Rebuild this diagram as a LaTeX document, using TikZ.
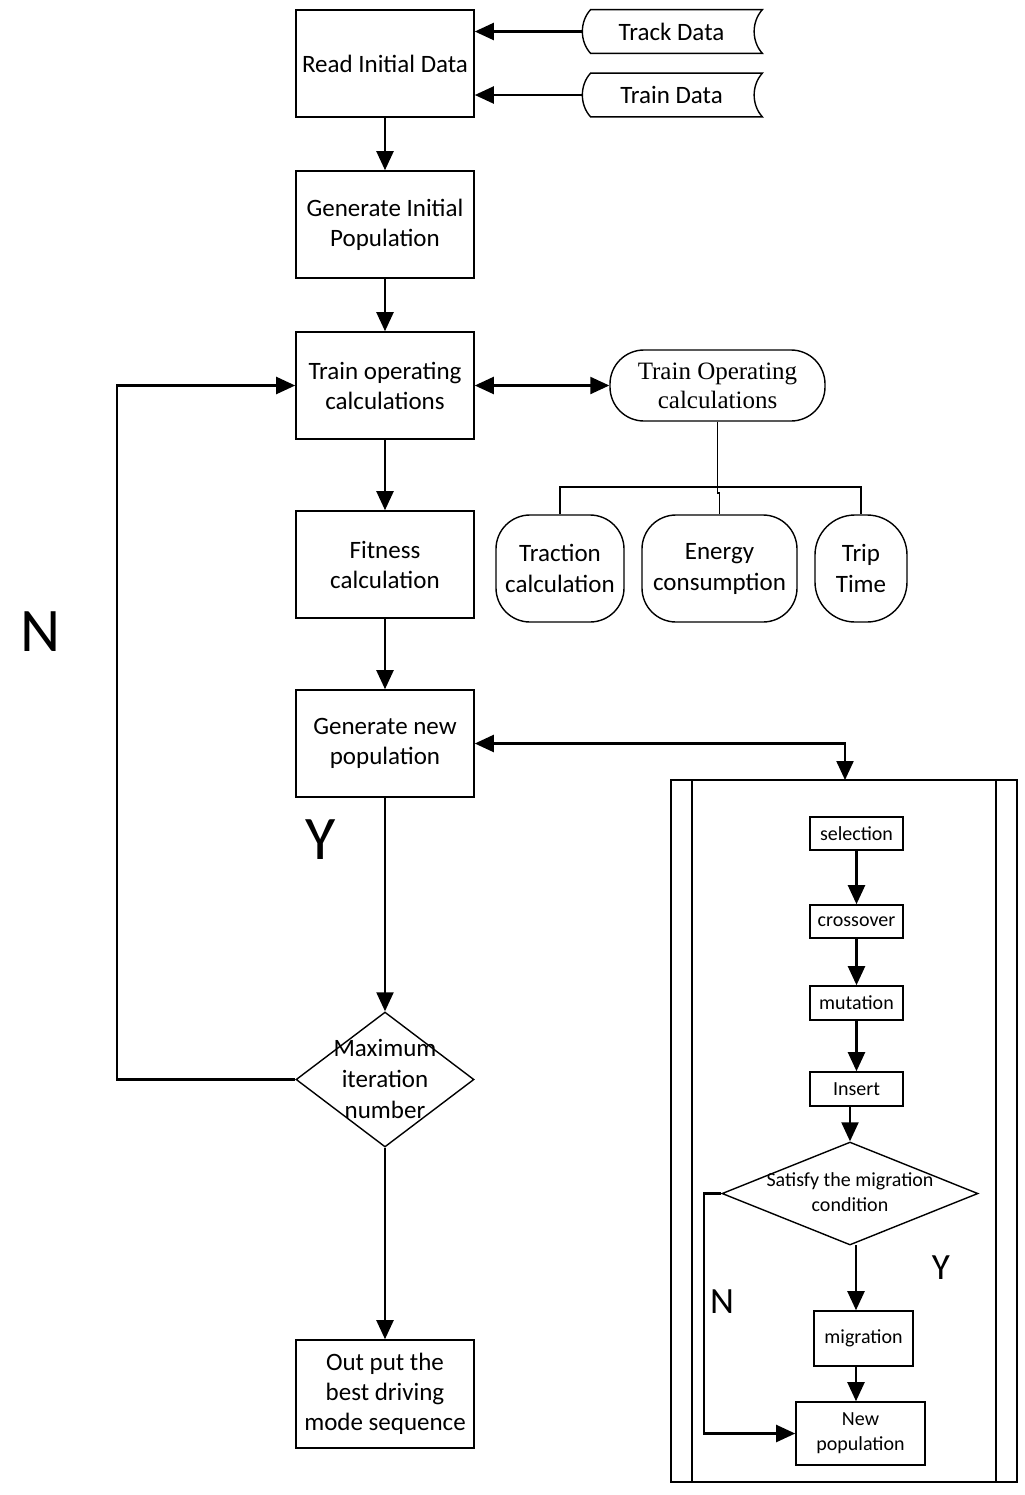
\documentclass[tikz,border=0pt]{standalone}
\usepackage{fontspec}
\setmainfont{Carlito}
\newfontfamily\serifx{Liberation Serif}
\usetikzlibrary{arrows.meta,shapes.geometric}
\begin{document}
\begin{tikzpicture}[x=0.5pt,y=-0.5pt,
  line join=miter,
  box/.style={draw,line width=0.8pt,minimum width=89pt,minimum height=53.5pt,align=center,inner sep=1pt,font=\fontsize{12.5}{15}\selectfont},
  sbox/.style={draw,line width=0.8pt,align=center,inner sep=1pt,font=\fontsize{10}{12.5}\selectfont},
  rbox/.style={draw,line width=0.7pt,rounded corners=17pt,align=center,inner sep=1pt,minimum height=53.5pt,font=\fontsize{12.5}{15.5}\selectfont},
  dia/.style={draw,diamond,line width=0.7pt,inner sep=0pt},
  txt/.style={align=center,inner sep=0pt},
  arr/.style={line width=1.1pt,-{Triangle[length=9.5pt,width=8.5pt]}},
  darr/.style={line width=1.1pt,{Triangle[length=9.5pt,width=8.5pt]}-{Triangle[length=9.5pt,width=8.5pt]}},
  thin/.style={line width=0.7pt},
  big/.style={inner sep=0pt,font=\fontsize{31}{31}\selectfont},
  mid/.style={inner sep=0pt,font=\fontsize{18.5}{18.5}\selectfont},
  dat/.style={inner sep=0pt,minimum width=85.5pt,minimum height=21.5pt,font=\fontsize{12.5}{15}\selectfont}
]
\useasboundingbox (0,0) rectangle (1024,1495);

% main column
\node[box] (read) at (385,63.5) {Read Initial Data};
\node[box] (gip) at (385,224.5) {Generate Initial\\Population};
\node[box] (toc) at (385,385.5) {Train operating\\calculations};
\node[box] (fit) at (385,564.5) {Fitness\\calculation};
\node[box] (gnp) at (385,743.5) {Generate new\\population};
\node[dia,minimum width=89pt,minimum height=67.5pt] (maxit) at (385,1079.5) {};
\node[txt,font=\fontsize{12.5}{15.5}\selectfont] (maxitT) at (385,1079) {Maximum\\iteration\\number};
\node[box,minimum height=54pt] (out) at (385,1394) {Out put the\\best driving\\mode sequence};

% data inputs
\node[dat] (track) at (676.5,31.5) {\hspace*{-5pt}Track Data};
\node[dat] (train) at (676.5,95) {\hspace*{-5pt}Train Data};
\foreach \n in {track,train}{
  \draw[thin] (\n.north west) .. controls +(-11,12) and +(-11,-12) .. (\n.south west)
    -- (\n.south east) .. controls +(-11,-12) and +(-11,12) .. (\n.north east) -- cycle;
}
\draw[arr] ([xshift=-4pt]track.west) -- (read.east |- track.west);
\draw[arr] ([xshift=-4pt]train.west) -- (read.east |- train.west);

% main flow
\draw[arr] (read) -- (gip);
\draw[arr] (gip) -- (toc);
\draw[arr] (toc) -- (fit);
\draw[arr] (fit) -- (gnp);
\draw[arr] (gnp) -- (maxit);
\draw[arr] (maxit) -- (out);
\coordinate (lp) at (117,1079.5);
\draw[arr] (maxit.west) -- (lp) |- (toc.west);
\node[big] (bigN) at (41,632) {N};
\node[big] (bigY) at (321,840) {Y};

% train operating calculations tree
\node[rbox,minimum width=107.5pt,minimum height=35.5pt,font=\serifx\fontsize{12.5}{14.5}\selectfont] (tocalc) at (717.5,385.5) {Train Operating\\calculations};
\draw[darr] (toc.east) -- (tocalc.west);
\node[rbox,minimum width=64pt] (trac) at (560,568.5) {Traction\\calculation};
\node[rbox,minimum width=77.5pt] (ener) at (719.5,568.5) {Energy\\consumption};
\node[rbox,minimum width=46pt,rounded corners=20pt] (trip) at (861,568.5) {Trip\\Time};
\coordinate (jn) at (717.5,487);
\draw[thin] (tocalc.south) -- (jn);
\draw[thin] (trac.north) |- (jn) -| (trip.north);
\draw[thin] (jn) -- ++(0,6) -| (ener.north);

% GA panel
\node[draw,line width=0.8pt,minimum width=173pt,minimum height=351pt,inner sep=0pt] (panel) at (844,1131) {};
\draw[thin] (692,780) -- (692,1482);
\draw[thin] (996,780) -- (996,1482);
\coordinate (pt) at (845,780);
\draw[darr] (gnp.east) -| (pt);

\node[sbox,minimum width=46.5pt,minimum height=16.5pt] (sel) at (856.5,833.5) {selection};
\node[sbox,minimum width=46.5pt,minimum height=16.5pt] (cro) at (856.5,921.5) {crossover};
\node[sbox,minimum width=46.5pt,minimum height=17pt] (mut) at (856.5,1003) {mutation};
\node[sbox,minimum width=46.5pt,minimum height=17pt] (ins) at (856.5,1089) {Insert};
\node[dia,minimum width=128pt,minimum height=51.5pt] (mig2) at (850,1193.5) {};
\node[txt,font=\fontsize{10}{12.5}\selectfont] (mig2T) at (850,1192) {Satisfy the migration\\condition};
\node[sbox,minimum width=49.5pt,minimum height=27.5pt] (migr) at (863.5,1338.5) {migration};
\node[sbox,minimum width=64.5pt,minimum height=31.5pt] (newp) at (860.5,1433.5) {New\\population};
\coordinate (ax) at (856,1245);

\draw[arr] (sel) -- (cro);
\draw[arr] (cro) -- (mut);
\draw[arr] (mut) -- (ins);
\draw[arr] (ins.south -| mig2.north) -- (mig2.north);
\draw[arr] (ax) -- (migr.north -| ax);
\draw[arr] (migr.south -| ax) -- (newp.north -| ax);
\coordinate (nl) at (704,1193.5);
\draw[arr] (mig2.west) -- (nl) |- (newp.west);
\node[mid] (smY) at (941,1268) {Y};
\node[mid] (smN) at (722,1302) {N};
\end{tikzpicture}
\end{document}
